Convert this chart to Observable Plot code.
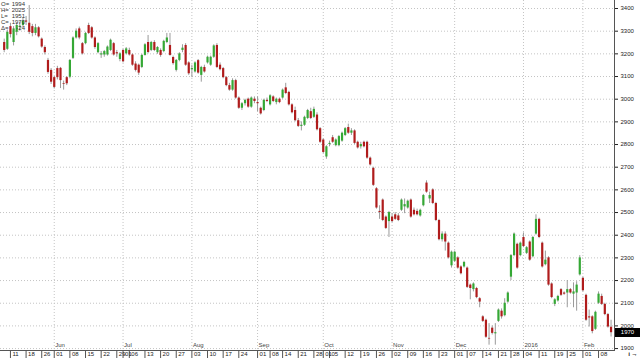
<!DOCTYPE html>
<html><head><meta charset="utf-8">
<script src="https://cdn.jsdelivr.net/npm/d3@7"></script>
<script src="https://cdn.jsdelivr.net/npm/@observablehq/plot@0.6"></script>
<style>
html,body{margin:0;padding:0;background:#fff;}
#wrap{position:relative;width:640px;height:358px;overflow:hidden;font-family:"Liberation Sans",Arial,sans-serif;}
#legend{position:absolute;left:1px;top:1px;font-size:6px;line-height:6px;color:#333;}
#legend div{display:flex;width:24px;justify-content:space-between;}
#last{position:absolute;left:615px;width:25px;height:9px;background:#000;color:#fff;font-size:6px;line-height:9px;text-align:center;}
</style></head><body><div id="wrap"></div>
<script>
const startDate = "2015-05-07";
const holidays = ["2015-05-25","2015-07-03","2015-09-07","2015-11-26","2015-12-25","2016-01-01","2016-01-18"];
const open = [
3250,3220,3320,3250,3295,3318,3325,3345,3335,3320,
3290,3315,3265,3228,3171,3127,3095,3135,3136,3068,
3095,3097,3180,3270,3310,3245,3245,3325,3315,3270,
3205,3195,3195,3195,3215,3245,3205,3175,3215,3200,
3215,3195,3155,3150,3140,3193,3250,3215,3250,3205,
3215,3210,3250,3237,3184,3127,3171,3215,3237,3160,
3130,3120,3170,3105,3140,3160,3150,3185,3237,3150,
3135,3095,3060,3040,3082,3005,2960,2980,3000,2965,
3000,2985,2960,2950,2995,2975,3010,2985,3000,3005,
3050,3030,2975,2950,2905,2880,2885,2915,2945,2920,
2930,2870,2820,2745,2800,2830,2795,2795,2815,2840,
2875,2850,2860,2810,2790,2810,2810,2740,2695,2605,
2505,2555,2480,2460,2480,2490,2485,2510,2525,2520,
2555,2510,2505,2485,2530,2630,2560,2600,2540,2465,
2380,2405,2365,2265,2285,2300,2260,2260,2255,2180,
2160,2165,2120,2040,2025,1945,1990,1965,2020,2065,
2045,2105,2215,2310,2360,2310,2390,2320,2370,2305,
2405,2470,2365,2270,2300,2185,2095,2110,2160,2145,
2145,2160,2140,2145,2225,2210,2135,2040,2040,1985,
2100,2130,2095,2050,1994];
const high = [
3265,3305,3335,3320,3335,3340,3360,3365,3413,3330,
3330,3320,3270,3235,3180,3135,3100,3145,3140,3080,
3100,3175,3275,3310,3318,3250,3295,3335,3320,3275,
3250,3210,3215,3235,3265,3250,3215,3205,3220,3228,
3225,3200,3165,3155,3198,3245,3281,3255,3258,3232,
3222,3260,3290,3290,3190,3175,3205,3240,3245,3165,
3150,3165,3175,3145,3150,3190,3190,3240,3245,3160,
3140,3100,3070,3090,3088,3010,2985,3000,3005,3010,
3010,3010,2965,3000,3005,3020,3015,3005,3005,3045,
3070,3035,2980,2965,2915,2900,2925,2955,2960,2965,
2940,2875,2825,2795,2815,2840,2825,2840,2855,2875,
2890,2870,2865,2815,2810,2815,2815,2745,2700,2610,
2530,2560,2485,2505,2495,2500,2495,2560,2560,2555,
2560,2520,2515,2515,2580,2640,2590,2605,2545,2470,
2415,2415,2370,2330,2330,2305,2265,2285,2260,2185,
2190,2170,2125,2045,2030,2010,2000,2010,2075,2075,
2120,2150,2315,2410,2365,2370,2410,2350,2375,2395,
2490,2475,2370,2330,2305,2190,2120,2135,2165,2150,
2200,2165,2190,2195,2310,2215,2140,2070,2045,2065,
2150,2140,2100,2055,2025];
const low = [
3205,3215,3270,3235,3280,3300,3315,3325,3285,3275,
3280,3270,3225,3195,3110,3065,3045,3085,3047,3040,
3060,3090,3175,3265,3262,3195,3240,3285,3265,3220,
3200,3180,3185,3190,3210,3190,3185,3165,3160,3195,
3190,3145,3120,3105,3135,3190,3200,3210,3210,3198,
3185,3205,3245,3190,3150,3120,3165,3205,3145,3105,
3095,3115,3110,3075,3115,3155,3145,3180,3135,3125,
3090,3055,3035,3035,3000,2955,2950,2970,2960,2960,
2980,2945,2930,2945,2985,2970,2985,2975,2980,3000,
3020,2970,2935,2900,2875,2860,2880,2910,2910,2915,
2860,2805,2760,2735,2790,2805,2790,2790,2810,2835,
2845,2840,2800,2780,2780,2785,2735,2705,2615,2515,
2470,2460,2425,2390,2455,2465,2460,2505,2495,2515,
2475,2485,2485,2480,2525,2585,2540,2535,2460,2375,
2370,2330,2295,2255,2280,2250,2225,2255,2165,2115,
2150,2120,2080,2015,1945,1915,1960,1915,2015,2030,
2040,2100,2200,2305,2250,2305,2345,2315,2285,2300,
2400,2385,2255,2265,2175,2120,2085,2105,2130,2135,
2080,2140,2080,2065,2220,2150,2020,1995,1965,1980,
2095,2090,2045,1990,1951];
const close = [
3215,3295,3285,3310,3325,3322,3345,3340,3295,3290,
3315,3275,3230,3205,3118,3075,3052,3095,3082,3065,
3068,3171,3270,3300,3270,3200,3290,3290,3270,3228,
3245,3200,3210,3230,3260,3195,3200,3200,3165,3222,
3195,3150,3127,3115,3193,3240,3206,3250,3215,3228,
3193,3255,3270,3193,3157,3171,3200,3225,3150,3112,
3135,3160,3115,3140,3120,3185,3185,3235,3140,3130,
3095,3060,3040,3082,3005,2960,2980,2995,2965,3005,
2990,2980,2935,2995,2990,3015,2990,3000,2985,3040,
3025,2975,2940,2905,2880,2885,2920,2950,2915,2955,
2865,2810,2765,2790,2805,2810,2820,2835,2850,2870,
2850,2860,2805,2785,2800,2790,2740,2710,2620,2520,
2500,2465,2430,2500,2460,2470,2465,2555,2535,2550,
2480,2490,2490,2510,2575,2590,2575,2540,2465,2380,
2405,2370,2300,2325,2325,2255,2230,2280,2170,2165,
2185,2125,2105,2020,1950,1942,1967,1970,2070,2040,
2100,2145,2310,2405,2255,2365,2350,2345,2290,2390,
2470,2390,2260,2290,2180,2125,2115,2130,2135,2140,
2160,2145,2150,2180,2300,2155,2025,2035,1975,2060,
2140,2095,2050,1995,1970];
const monthLabels = ["Jun","Jul","Aug","Sep","Oct","Nov","Dec","2016","Feb"];
const yTicks = [1900,2000,2100,2200,2300,2400,2500,2600,2700,2800,2900,3000,3100,3200,3300,3400];

// trading calendar
const hol = new Set(holidays);
const days = [];
const dt = new Date(startDate + "T00:00:00Z");
while (days.length < close.length) {
  const wd = dt.getUTCDay();
  const iso = dt.toISOString().slice(0, 10);
  if (wd !== 0 && wd !== 6 && !hol.has(iso)) days.push(new Date(dt));
  dt.setUTCDate(dt.getUTCDate() + 1);
}
const monthTicks = [], weekTicks = [];
for (let i = 1; i < days.length; i++) {
  if (days[i].getUTCMonth() !== days[i - 1].getUTCMonth()) monthTicks.push(i);
  if (days[i].getUTCDay() <= days[i - 1].getUTCDay()) weekTicks.push(i);
}
const dayTicks = Array.from(new Set([...monthTicks,
  ...weekTicks.filter(w => !monthTicks.some(m => m !== w && Math.abs(m - w) <= 1))])).sort((a, b) => a - b);
const fmtDay = d3.utcFormat("%d");

const data = close.map((c, i) => ({i, o: open[i], h: high[i], l: low[i], c, dir: c >= open[i] ? "up" : "down"}));
const last = data[data.length - 1];

const chart = Plot.plot({
  width: 640, height: 358,
  marginLeft: 0, marginRight: 26, marginTop: 0, marginBottom: 8,
  style: {fontFamily: "Liberation Sans, Arial, sans-serif", fontSize: "6px", background: "#fff", color: "#222"},
  x: {type: "linear", domain: [-1.18, 195.1], axis: null},
  y: {domain: [1891.5, 3435.3], axis: null},
  color: {domain: ["up", "down"], range: ["#35a835", "#b01c1c"]},
  marks: [
    Plot.ruleY(yTicks, {stroke: "#c4c4c4", strokeDasharray: "1,2"}),
    Plot.ruleX(monthTicks, {stroke: "#c4c4c4", strokeDasharray: "1,2"}),
    Plot.ruleX(data, {x: "i", y1: "l", y2: "h", stroke: "#9a9a9a", strokeWidth: 1}),
    Plot.ruleX(data, {x: "i", y1: "o", y2: "c", stroke: "dir", strokeWidth: 2.2}),
    Plot.frame({anchor: "right", stroke: "#555"}),
    Plot.frame({anchor: "bottom", stroke: "#555"}),
    Plot.axisY(yTicks, {anchor: "right", tickSize: 3, tickPadding: 3, fontSize: 6, fill: "#222", tickFormat: d => String(d)}),
    Plot.axisX(dayTicks, {anchor: "bottom", tickSize: 8, text: null, stroke: "#555"}),
    Plot.axisX(dayTicks, {anchor: "bottom", tickSize: 0, tickPadding: 1, textAnchor: "start", dx: 2,
      tickFormat: i => fmtDay(days[i]), fontSize: 6, fill: "#222"}),
    Plot.text(monthTicks, {x: d => d, frameAnchor: "bottom", text: (d, k) => monthLabels[k],
      textAnchor: "start", dx: 1, dy: -4, fontSize: 6, fill: "#444"})
  ]
});
const wrap = document.getElementById("wrap");
wrap.appendChild(chart);

const legend = document.createElement("div");
legend.id = "legend";
const rows = [["O=", last.o], ["H=", last.h], ["L=", last.l], ["C=", last.c], ["\u0394=", last.c - last.o]];
legend.innerHTML = rows.map(([k, v]) => `<div><span>${k}</span><span>${v}</span></div>`).join("");
wrap.appendChild(legend);

const box = document.createElement("div");
box.id = "last";
box.textContent = last.c;
box.style.top = (chart.scale("y").apply(last.c) - 4.5) + "px";
wrap.appendChild(box);
</script></body></html>
